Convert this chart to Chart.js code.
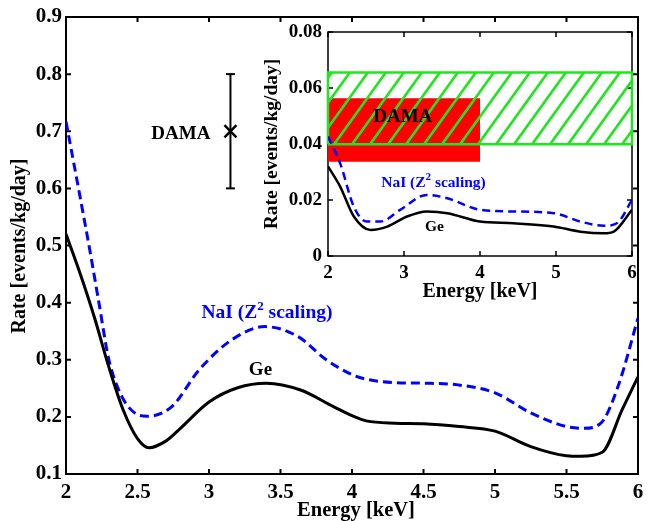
<!DOCTYPE html>
<html>
<head>
<meta charset="utf-8">
<script src="https://cdn.jsdelivr.net/npm/chart.js@4.4.1/dist/chart.umd.min.js"></script>
<style>
  html, body { margin:0; padding:0; background:#fff; overflow:hidden; }
  #wrap { position:relative; width:649px; height:521px; }
  #main { position:absolute; left:0; top:0; }
  #inset { position:absolute; left:258px; top:0; }
</style>
</head>
<body>
<div id="wrap">
  <canvas id="main" width="649" height="521"></canvas>
  <canvas id="inset" width="391" height="310"></canvas>
</div>
<script>
// ---------- DATA (main panel) ----------
const mainGeEnergy = [2.0, 2.1, 2.2, 2.3, 2.4, 2.5, 2.58, 2.7, 2.8, 3.0, 3.2, 3.4, 3.64, 3.87, 4.0, 4.1, 4.3, 4.5, 4.75, 5.0, 5.25, 5.5, 5.6, 5.75, 5.89, 6.0];
const mainGeRate   = [0.52, 0.45, 0.373, 0.287, 0.212, 0.162, 0.146, 0.158, 0.18, 0.226, 0.251, 0.259, 0.247, 0.218, 0.202, 0.193, 0.189, 0.188, 0.183, 0.175, 0.148, 0.132, 0.131, 0.138, 0.213, 0.27];
const mainNaIEnergy = [2.0, 2.1, 2.17, 2.23, 2.3, 2.39, 2.48, 2.57, 2.74, 2.93, 3.16, 3.39, 3.62, 3.82, 4.0, 4.1, 4.3, 4.5, 4.74, 5.0, 5.25, 5.5, 5.62, 5.74, 5.86, 6.0];
const mainNaIRate   = [0.717, 0.583, 0.487, 0.4, 0.3, 0.236, 0.207, 0.201, 0.218, 0.282, 0.335, 0.358, 0.341, 0.3, 0.274, 0.266, 0.26, 0.259, 0.256, 0.242, 0.207, 0.183, 0.18, 0.189, 0.253, 0.373];
const damaEnergy = [3.15];
const damaRate   = [0.7];
const damaErrLow = [0.6];
const damaErrHigh = [0.8];
const mainXTicks = [2, 2.5, 3, 3.5, 4, 4.5, 5, 5.5, 6];
const mainXTickLabels = ['2', '2.5', '3', '3.5', '4', '4.5', '5', '5.5', '6'];
const mainYTicks = [0.1, 0.2, 0.3, 0.4, 0.5, 0.6, 0.7, 0.8, 0.9];
const mainYTickLabels = ['0.1', '0.2', '0.3', '0.4', '0.5', '0.6', '0.7', '0.8', '0.9'];

// ---------- DATA (inset) ----------
const insetGeEnergy = [2.0, 2.16, 2.34, 2.56, 2.78, 3.04, 3.3, 3.57, 4.0, 4.44, 4.97, 5.32, 5.63, 5.76, 6.0];
const insetGeRate   = [0.032, 0.0248, 0.0141, 0.0093, 0.0105, 0.0141, 0.0159, 0.0153, 0.0123, 0.0117, 0.0105, 0.0087, 0.0081, 0.0087, 0.0165];
const insetNaIEnergy = [2.0, 2.16, 2.34, 2.51, 2.69, 2.95, 3.3, 3.57, 4.0, 4.44, 4.97, 5.32, 5.63, 5.8, 6.0];
const insetNaIRate   = [0.0427, 0.0331, 0.0176, 0.0123, 0.0123, 0.0165, 0.0218, 0.0206, 0.0165, 0.0159, 0.0153, 0.0123, 0.0108, 0.0117, 0.020];
const damaBandEnergy = [2, 4];
const damaBandRate   = [0.0337, 0.0563];
const modBandEnergy  = [2, 6];
const modBandRate    = [0.0399, 0.0655];
const insetXTicks = [2, 3, 4, 5, 6];
const insetXTickLabels = ['2', '3', '4', '5', '6'];
const insetYTicks = [0, 0.02, 0.04, 0.06, 0.08];
const insetYTickLabels = ['0', '0.02', '0.04', '0.06', '0.08'];

// ---------- helpers ----------
const FONT = '"Liberation Serif", "Times New Roman", serif';
const GREEN = '#1ee61e';
Chart.defaults.font.family = FONT;
Chart.defaults.color = '#000';
const pts = (xs, ys) => xs.map((x, i) => ({x, y: ys[i]}));
const rectPts = (ex, ry) => [
  {x: ex[0], y: ry[0]}, {x: ex[1], y: ry[0]}, {x: ex[1], y: ry[1]}, {x: ex[0], y: ry[1]}, {x: ex[0], y: ry[0]}
];

function hatchPattern(color, w, h, lw) {
  const c = document.createElement('canvas');
  c.width = w; c.height = h;
  const g = c.getContext('2d');
  g.strokeStyle = color; g.lineWidth = lw;
  g.beginPath();
  g.moveTo(0, h); g.lineTo(w, 0);
  g.moveTo(-w, h); g.lineTo(0, 0);
  g.moveTo(w, 2 * h); g.lineTo(2 * w, h);
  g.moveTo(-w, 2 * h); g.lineTo(w, 0);
  g.moveTo(0, h * 2); g.lineTo(2 * w, 0);
  g.moveTo(-w, h); g.lineTo(w, -h);
  g.moveTo(0, h); g.lineTo(2 * w, -h);
  g.stroke();
  return g.createPattern(c, 'repeat');
}

function axisCfg(min, max, tickVals, tickLabels, fontSize, pad, fitFn) {
  return {
    type: 'linear', min, max,
    afterBuildTicks: s => { s.ticks = tickVals.map(v => ({value: v})); },
    afterFit: fitFn,
    grid: {display: false, drawTicks: false},
    border: {display: false},
    ticks: {
      callback: (v, i) => tickLabels[i],
      font: {size: fontSize, weight: 'bold', family: FONT},
      color: '#000', padding: pad, maxRotation: 0, autoSkip: false
    }
  };
}

// frame + inward ticks
function framePlugin(lw, len) {
  return {
    id: 'frame',
    beforeDatasetsDraw(chart) {
      const {ctx, chartArea: a, scales: {x, y}} = chart;
      ctx.save();
      ctx.strokeStyle = '#000'; ctx.lineWidth = lw;
      ctx.strokeRect(a.left, a.top, a.right - a.left, a.bottom - a.top);
      ctx.beginPath();
      x.ticks.forEach(t => {
        const p = x.getPixelForValue(t.value);
        ctx.moveTo(p, a.bottom); ctx.lineTo(p, a.bottom - len);
        ctx.moveTo(p, a.top); ctx.lineTo(p, a.top + len);
      });
      y.ticks.forEach(t => {
        const p = y.getPixelForValue(t.value);
        ctx.moveTo(a.left, p); ctx.lineTo(a.left + len, p);
        ctx.moveTo(a.right, p); ctx.lineTo(a.right - len, p);
      });
      ctx.stroke();
      ctx.restore();
    }
  };
}

// text annotations: anchored in data units
function textPlugin(items, titles) {
  return {
    id: 'texts',
    afterDraw(chart) {
      const {ctx, scales: {x, y}} = chart;
      ctx.save();
      items.forEach(it => {
        const px = x.getPixelForValue(it.x), py = y.getPixelForValue(it.y);
        ctx.fillStyle = it.color;
        ctx.textBaseline = 'alphabetic';
        const f = `bold ${it.size}px ${FONT}`;
        const fs = `bold ${Math.round(it.size * 0.68)}px ${FONT}`;
        if (it.sup) {
          ctx.font = f;
          const w1 = ctx.measureText(it.text).width;
          const w3 = ctx.measureText(it.after).width;
          ctx.font = fs;
          const w2 = ctx.measureText(it.sup).width;
          let sx = px;
          const total = w1 + w2 + w3;
          if (it.align === 'center') sx = px - total / 2;
          if (it.align === 'right') sx = px - total;
          ctx.textAlign = 'left';
          ctx.font = f; ctx.fillText(it.text, sx, py);
          ctx.font = fs; ctx.fillText(it.sup, sx + w1, py - it.size * 0.42);
          ctx.font = f; ctx.fillText(it.after, sx + w1 + w2, py);
        } else {
          ctx.font = f;
          ctx.textAlign = it.align;
          ctx.fillText(it.text, px, py);
        }
      });
      titles.forEach(t => {
        ctx.save();
        ctx.fillStyle = '#000';
        ctx.font = `bold ${t.size}px ${FONT}`;
        ctx.textAlign = 'center';
        ctx.textBaseline = t.baseline;
        ctx.translate(t.px, t.py);
        if (t.rot) ctx.rotate(-Math.PI / 2);
        ctx.fillText(t.text, 0, 0);
        ctx.restore();
      });
      ctx.restore();
    }
  };
}

// ---------- MAIN CHART ----------
new Chart(document.getElementById('main'), {
  type: 'scatter',
  data: {
    datasets: [
      {data: pts(mainGeEnergy, mainGeRate), showLine: true, borderColor: '#000', borderWidth: 3,
       pointRadius: 0, cubicInterpolationMode: 'monotone'},
      {data: pts(mainNaIEnergy, mainNaIRate), showLine: true, borderColor: '#0000ff', borderWidth: 3,
       borderDash: [9, 5], pointRadius: 0, cubicInterpolationMode: 'monotone'},
      {data: [{x: damaEnergy[0], y: damaErrLow[0]}, {x: damaEnergy[0], y: damaErrHigh[0]}], showLine: true,
       borderColor: '#000', borderWidth: 2, pointStyle: 'line', pointRadius: 4.5,
       pointBorderColor: '#000', pointBorderWidth: 2},
      {data: pts(damaEnergy, damaRate), showLine: false, pointStyle: 'crossRot', pointRadius: 8.5,
       pointBorderColor: '#000', pointBorderWidth: 2.5}
    ]
  },
  options: {
    responsive: false, animation: false,
    layout: {padding: {left: 0, right: 4, top: 17, bottom: 0}},
    plugins: {legend: {display: false}, tooltip: {enabled: false}},
    scales: {
      x: axisCfg(2, 6, mainXTicks, mainXTickLabels, 21, 6, s => { s.height = 47; s.paddingLeft = 0; s.paddingRight = 0; }),
      y: axisCfg(0.1, 0.9, mainYTicks, mainYTickLabels, 21, 4, s => { s.width = 66; s.paddingTop = 0; s.paddingBottom = 0; })
    }
  },
  plugins: [
    framePlugin(2, 5),
    textPlugin([
      {text: 'DAMA', x: 3.01, y: 0.686, size: 19, color: '#000', align: 'right'},
      {text: 'NaI (Z', sup: '2', after: ' scaling)', x: 2.947, y: 0.3736, size: 19.5, color: '#0000ff', align: 'left'},
      {text: 'Ge', x: 3.36, y: 0.2735, size: 19, color: '#000', align: 'center'}
    ], [
      {text: 'Energy [keV]', px: 356, py: 516, size: 20.5, baseline: 'alphabetic', rot: false},
      {text: 'Rate [events/kg/day]', px: 20, py: 246, size: 20, baseline: 'middle', rot: true}
    ])
  ]
});

// ---------- INSET ----------
const insetCanvas = document.getElementById('inset');
const hatch = hatchPattern(GREEN, 18, 25, 2.6);
new Chart(insetCanvas, {
  type: 'scatter',
  data: {
    datasets: [
      {data: rectPts(damaBandEnergy, damaBandRate), showLine: true, fill: 'shape', backgroundColor: '#ff0000',
       borderColor: '#ff0000', borderWidth: 0, pointRadius: 0, tension: 0, order: 4},
      {data: rectPts(modBandEnergy, modBandRate), showLine: true, fill: 'shape', backgroundColor: hatch,
       borderColor: GREEN, borderWidth: 2.5, pointRadius: 0, tension: 0, clip: 4, order: 3},
      {data: pts(insetGeEnergy, insetGeRate), showLine: true, borderColor: '#000', borderWidth: 2.5,
       pointRadius: 0, cubicInterpolationMode: 'monotone', order: 1},
      {data: pts(insetNaIEnergy, insetNaIRate), showLine: true, borderColor: '#0000ff', borderWidth: 2.5,
       borderDash: [8, 5], pointRadius: 0, cubicInterpolationMode: 'monotone', order: 2}
    ]
  },
  options: {
    responsive: false, animation: false,
    layout: {padding: {left: 0, right: 17, top: 32, bottom: 0}},
    plugins: {legend: {display: false}, tooltip: {enabled: false}, filler: {propagate: false}},
    scales: {
      x: axisCfg(2, 6, insetXTicks, insetXTickLabels, 19, 6, s => { s.height = 54; s.paddingLeft = 0; s.paddingRight = 0; }),
      y: axisCfg(0, 0.08, insetYTicks, insetYTickLabels, 19, 6, s => { s.width = 70; s.paddingTop = 0; s.paddingBottom = 0; })
    }
  },
  plugins: [
    {id: 'whiteBg', beforeDraw(chart) {
      const {ctx, chartArea: a} = chart;
      ctx.save(); ctx.fillStyle = '#fff'; ctx.fillRect(a.left, a.top, a.right - a.left, a.bottom - a.top); ctx.restore();
    }},
    framePlugin(1.5, 5),
    textPlugin([
      {text: 'DAMA', x: 2.984, y: 0.048, size: 19, color: '#000', align: 'center'},
      {text: 'NaI (Z', sup: '2', after: ' scaling)', x: 2.70, y: 0.02475, size: 15.5, color: '#0000ff', align: 'left'},
      {text: 'Ge', x: 3.40, y: 0.00904, size: 15.5, color: '#000', align: 'center'}
    ], [
      {text: 'Energy [keV]', px: 222, py: 297, size: 20, baseline: 'alphabetic', rot: false},
      {text: 'Rate [events/kg/day]', px: 14, py: 144, size: 19.5, baseline: 'middle', rot: true}
    ])
  ]
});
</script>
</body>
</html>
